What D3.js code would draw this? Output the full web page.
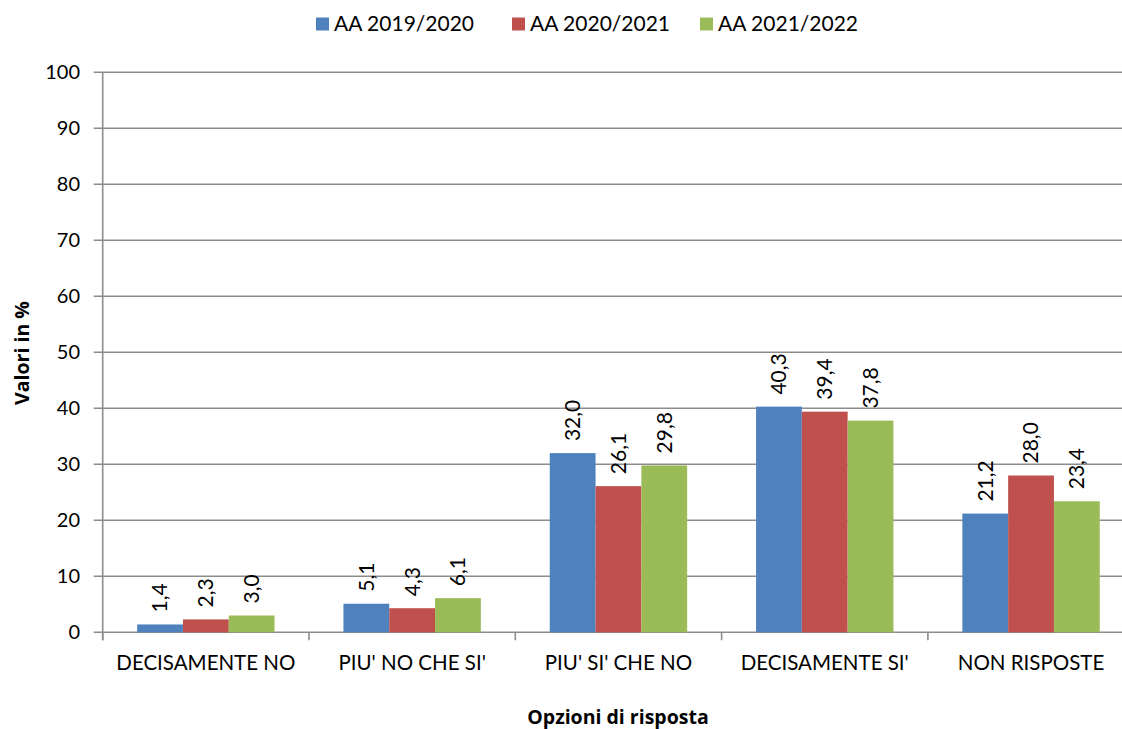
<!DOCTYPE html>
<html>
<head>
<meta charset="utf-8">
<script src="https://cdn.jsdelivr.net/npm/d3@7"></script>
<style>
  body { margin: 0; background: #fff; }
  svg { display: block; font-family: Lato, "Open Sans", sans-serif; }
</style>
</head>
<body>
<svg id="chart" width="1122" height="729"></svg>
<script>
var categories = ["DECISAMENTE NO", "PIU' NO CHE SI'", "PIU' SI' CHE NO", "DECISAMENTE SI'", "NON RISPOSTE"];
var seriesNames = ["AA 2019/2020", "AA 2020/2021", "AA 2021/2022"];
var values2019 = [1.4, 5.1, 32.0, 40.3, 21.2];
var values2020 = [2.3, 4.3, 26.1, 39.4, 28.0];
var values2021 = [3.0, 6.1, 29.8, 37.8, 23.4];
var colors = ["#4F81BD", "#C0504D", "#9BBB59"];
var yTicks = [0, 10, 20, 30, 40, 50, 60, 70, 80, 90, 100];

(function() {
  var series = [values2019, values2020, values2021];
  var svg = d3.select('#chart');

  // plot area runs past the right edge, as in the reference
  var plotLeft = 102.7, plotTop = 72.3, plotBottom = 632.3, band = 206.3,
    plotRight = plotLeft + 5 * band;

  var x = d3.scaleBand().domain(categories).range([plotLeft, plotRight])
    .paddingInner(0.334).paddingOuter(0.167);
  var xs = d3.scaleBand().domain(d3.range(3)).range([0, x.bandwidth()]);
  var y = d3.scaleLinear().domain([0, 100]).range([plotBottom, plotTop]);

  svg.append('g').classed('grid-lines', true)
    .selectAll('line')
    .data(yTicks)
    .enter()
    .append('line')
    .attr('x1', plotLeft - 9)
    .attr('x2', plotRight)
    .attr('y1', function(d) { return y(d); })
    .attr('y2', function(d) { return y(d); })
    .attr('stroke', '#8c8c8c')
    .attr('stroke-width', 1.6);

  svg.append('line')
    .attr('x1', plotLeft).attr('x2', plotLeft)
    .attr('y1', plotTop).attr('y2', plotBottom + 8)
    .attr('stroke', '#8c8c8c').attr('stroke-width', 1.6);

  // category tick marks
  svg.append('g').selectAll('line')
    .data(d3.range(6))
    .enter()
    .append('line')
    .attr('x1', function(d) { return plotLeft + d * band; })
    .attr('x2', function(d) { return plotLeft + d * band; })
    .attr('y1', plotBottom)
    .attr('y2', plotBottom + 8)
    .attr('stroke', '#8c8c8c')
    .attr('stroke-width', 1.6);

  svg.append('g').selectAll('text')
    .data(yTicks)
    .enter()
    .append('text')
    .attr('x', 80)
    .attr('y', function(d) { return y(d); })
    .attr('dy', '0.35em')
    .attr('text-anchor', 'end')
    .attr('font-size', 20)
    .text(function(d) { return d; });

  svg.append('g').selectAll('g')
    .data(series)
    .enter()
    .append('g')
    .attr('fill', function(d, i) { return colors[i]; })
    .each(function(vals, si) {
      var g = d3.select(this);
      g.selectAll('rect')
        .data(vals)
        .enter()
        .append('rect')
        .attr('x', function(d, i) { return x(categories[i]) + xs(si); })
        .attr('y', function(d) { return y(d); })
        .attr('width', xs.bandwidth())
        .attr('height', function(d) { return y(0) - y(d); });

      g.selectAll('text')
        .data(vals)
        .enter()
        .append('text')
        .attr('transform', function(d, i) {
          var cx = x(categories[i]) + xs(si) + xs.bandwidth() / 2;
          return 'translate(' + cx + ',' + (y(d) - 12) + ') rotate(-90)';
        })
        .attr('dy', '0.35em')
        .attr('font-size', 21)
        .attr('fill', '#000')
        .text(function(d) { return d.toFixed(1).replace('.', ','); });
    });

  svg.append('g').selectAll('text')
    .data(categories)
    .enter()
    .append('text')
    .attr('x', function(d) { return x(d) + x.bandwidth() / 2; })
    .attr('y', 663)
    .attr('dy', '0.35em')
    .attr('text-anchor', 'middle')
    .attr('font-size', 20.5)
    .text(function(d) { return d; });

  svg.append('text')
    .attr('x', 618).attr('y', 717)
    .attr('dy', '0.35em')
    .attr('text-anchor', 'middle')
    .attr('font-family', '"Open Sans", sans-serif')
    .attr('font-size', 19.5)
    .attr('font-weight', 'bold')
    .text('Opzioni di risposta');

  svg.append('text')
    .attr('transform', 'translate(22,353) rotate(-90)')
    .attr('dy', '0.35em')
    .attr('text-anchor', 'middle')
    .attr('font-family', '"Open Sans", sans-serif')
    .attr('font-size', 19.5)
    .attr('font-weight', 'bold')
    .text('Valori in %');

  var legendX = [316, 512, 700];
  var legend = svg.append('g').selectAll('g')
    .data(seriesNames)
    .enter()
    .append('g')
    .attr('transform', function(d, i) { return 'translate(' + legendX[i] + ',24)'; });

  legend.append('rect')
    .attr('x', 0).attr('y', -6.5)
    .attr('width', 13).attr('height', 13)
    .attr('fill', function(d, i) { return colors[i]; });

  legend.append('text')
    .attr('x', 18)
    .attr('dy', '0.35em')
    .attr('font-size', 21)
    .text(function(d) { return d; });
})();
</script>
</body>
</html>
